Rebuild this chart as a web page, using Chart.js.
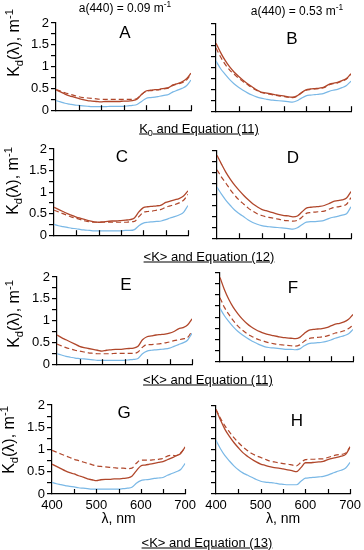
<!DOCTYPE html>
<html>
<head>
<meta charset="utf-8">
<script src="https://cdn.jsdelivr.net/npm/chart.js@4"></script>
<style>
body { margin: 0; background: #fff; }
#wrap { position: relative; width: 364px; height: 550px; overflow: hidden; font-family: "Liberation Sans", Arial, sans-serif; color: #000; }
canvas { position: absolute; }
.t { position: absolute; transform: translate(-50%, -50%); white-space: nowrap; line-height: 1; }
.ylab { position: absolute; transform: translate(-50%, -50%) rotate(-90deg); white-space: nowrap; font-size: 16px; line-height: 1; }
.cap { font-size: 13px; text-decoration: underline; }
.let { font-size: 17px; }
.ttl { font-size: 12px; }
sub, sup { font-size: 70%; line-height: 0; }
</style>
</head>
<body>
<div id="wrap"></div>
<script>
// wavelength, nm
const wl = [400,410,420,430,440,450,460,470,480,490,500,510,520,530,540,550,560,570,580,590,600,610,620,630,640,650,660,670,680,690,700];
const xTicks = [400,450,500,550,600,650,700];

// Kd values, m^-1 (solid, dashed, blue) per panel
const aSolid  = [.47,.42,.37,.33,.30,.27,.24,.22,.21,.20,.19,.20,.20,.20,.20,.21,.21,.22,.25,.36,.44,.46,.47,.48,.50,.52,.58,.61,.65,.72,.85];
const aDashed = [.47,.44,.40,.37,.34,.31,.29,.28,.27,.26,.25,.25,.25,.25,.25,.25,.25,.25,.27,.36,.43,.45,.46,.47,.49,.51,.57,.60,.63,.69,.83];
const aBlue   = [.22,.19,.16,.14,.12,.11,.10,.09,.08,.08,.08,.08,.09,.09,.09,.09,.10,.11,.13,.20,.27,.29,.30,.32,.34,.36,.42,.46,.50,.56,.69];

const bSolid  = [1.56,1.35,1.17,1.02,.90,.80,.71,.63,.56,.49,.44,.42,.40,.38,.36,.35,.33,.32,.35,.43,.49,.51,.52,.53,.55,.61,.64,.66,.70,.75,.86];
const bDashed = [1.45,1.25,1.08,.95,.85,.76,.68,.61,.54,.48,.43,.41,.39,.37,.35,.34,.32,.31,.34,.42,.48,.50,.51,.52,.54,.60,.63,.65,.69,.74,.85];
const bBlue   = [1.15,.98,.85,.73,.63,.55,.48,.42,.37,.33,.30,.28,.26,.25,.24,.23,.22,.21,.24,.30,.35,.37,.38,.39,.41,.45,.48,.50,.54,.59,.69];

const cSolid  = [.65,.60,.55,.50,.46,.42,.39,.36,.33,.31,.30,.31,.32,.33,.33,.34,.35,.36,.40,.54,.64,.66,.67,.68,.70,.76,.79,.82,.85,.91,1.03];
const cDashed = [.58,.54,.50,.46,.42,.39,.36,.33,.31,.30,.30,.30,.30,.30,.30,.30,.30,.31,.32,.43,.53,.55,.56,.58,.60,.65,.68,.71,.75,.81,.95];
const cBlue   = [.25,.22,.20,.18,.16,.15,.13,.12,.11,.10,.10,.10,.10,.10,.10,.10,.11,.11,.13,.22,.28,.30,.31,.32,.33,.36,.40,.43,.47,.53,.69];

const dSolid  = [1.90,1.70,1.51,1.35,1.21,1.09,.98,.88,.79,.72,.66,.63,.60,.57,.54,.52,.51,.49,.51,.60,.69,.71,.72,.73,.75,.79,.84,.86,.88,.92,1.07];
const dDashed = [1.57,1.40,1.26,1.11,.98,.87,.78,.69,.62,.56,.52,.49,.47,.45,.43,.41,.40,.39,.41,.48,.57,.59,.60,.61,.62,.66,.70,.72,.74,.78,.93];
const dBlue   = [1.17,1.01,.87,.75,.64,.56,.49,.42,.36,.32,.29,.27,.26,.25,.24,.23,.22,.21,.24,.31,.37,.38,.38,.39,.41,.45,.48,.50,.53,.56,.72];

const eSolid  = [.67,.61,.56,.51,.46,.41,.38,.36,.34,.32,.30,.32,.33,.34,.34,.35,.36,.37,.41,.56,.63,.65,.67,.68,.69,.71,.75,.81,.84,.90,1.04];
const eDashed = [.46,.42,.38,.35,.32,.30,.28,.26,.25,.24,.24,.24,.24,.25,.25,.25,.25,.25,.28,.39,.45,.45,.46,.47,.49,.51,.54,.56,.58,.61,.76];
const eBlue   = [.24,.21,.18,.16,.14,.13,.12,.11,.10,.09,.09,.09,.09,.09,.09,.09,.10,.11,.13,.24,.30,.32,.33,.34,.35,.37,.41,.45,.49,.55,.71];

const fSolid  = [1.90,1.62,1.40,1.22,1.08,.96,.86,.78,.72,.67,.63,.60,.58,.56,.54,.53,.52,.51,.54,.63,.70,.72,.73,.74,.76,.80,.84,.86,.89,.95,1.06];
const fDashed = [1.44,1.22,1.06,.92,.80,.71,.63,.57,.52,.48,.45,.42,.40,.38,.37,.36,.35,.34,.37,.45,.51,.53,.54,.55,.57,.60,.64,.66,.69,.74,.82];
const fBlue   = [1.20,1.03,.90,.78,.68,.60,.53,.47,.42,.37,.33,.31,.30,.29,.28,.27,.27,.26,.28,.35,.40,.41,.42,.43,.45,.48,.52,.55,.58,.62,.72];

const gSolid  = [.67,.62,.57,.52,.48,.45,.41,.38,.34,.32,.30,.32,.33,.33,.34,.34,.35,.36,.40,.52,.63,.65,.67,.69,.71,.73,.77,.81,.86,.91,1.06];
const gDashed = [.98,.94,.90,.86,.82,.78,.75,.72,.69,.66,.63,.62,.61,.60,.59,.58,.58,.57,.58,.69,.76,.76,.76,.77,.78,.80,.85,.87,.86,.93,1.04];
const gBlue   = [.26,.23,.21,.19,.17,.16,.14,.13,.12,.11,.11,.11,.11,.11,.11,.11,.12,.13,.15,.24,.30,.32,.33,.35,.36,.37,.42,.46,.50,.55,.69];

const hSolid  = [1.92,1.68,1.47,1.31,1.17,1.05,.94,.86,.79,.73,.68,.65,.62,.60,.59,.57,.55,.53,.51,.60,.71,.71,.72,.73,.74,.78,.81,.83,.86,.90,1.07];
const hDashed = [1.92,1.72,1.55,1.41,1.28,1.17,1.07,.99,.92,.87,.83,.79,.75,.73,.71,.69,.68,.66,.64,.72,.78,.79,.79,.80,.80,.83,.86,.89,.90,.93,1.07];
const hBlue   = [1.22,1.03,.87,.75,.64,.55,.48,.43,.38,.33,.29,.27,.26,.25,.23,.22,.21,.21,.21,.29,.36,.37,.38,.39,.40,.43,.47,.51,.54,.59,.72];

const BROWN = "#b0472b";
const BLUE = "#7ab8e6";
const FONT = "'Liberation Sans', Arial, sans-serif";

// plot boxes [left, top, right, bottom] in page pixels
const panels = [
  { box: [56, 23, 191, 112],  s: aSolid, d: aDashed, b: aBlue, left: true,  last: false },
  { box: [216, 24, 351, 113], s: bSolid, d: bDashed, b: bBlue, left: false, last: false },
  { box: [54, 149, 188, 237], s: cSolid, d: cDashed, b: cBlue, left: true,  last: false },
  { box: [217, 151, 351, 240], s: dSolid, d: dDashed, b: dBlue, left: false, last: false },
  { box: [57, 277, 192, 366], s: eSolid, d: eDashed, b: eBlue, left: true,  last: false },
  { box: [220, 273, 353, 363], s: fSolid, d: fDashed, b: fBlue, left: false, last: false },
  { box: [52, 405, 186, 494], s: gSolid, d: gDashed, b: gBlue, left: true,  last: true },
  { box: [216, 406, 351, 494], s: hSolid, d: hDashed, b: hBlue, left: false, last: true }
];

const wrap = document.getElementById("wrap");

// x ticks point up into the plot
const inTicks = {
  id: "inTicks",
  afterDraw(chart) {
    const xs = chart.scales.x, ctx = chart.ctx, bot = chart.chartArea.bottom;
    ctx.save();
    ctx.strokeStyle = "#000";
    ctx.lineWidth = 1.2;
    xTicks.slice(1).forEach(v => {
      const px = Math.round(xs.getPixelForValue(v)) + 0.5;
      ctx.beginPath();
      ctx.moveTo(px, bot);
      ctx.lineTo(px, bot - 5);
      ctx.stroke();
    });
    ctx.restore();
  }
};

const pts = arr => wl.map((x, i) => ({ x: x, y: arr[i] }));

panels.forEach(p => {
  const [l, t, r, b] = p.box;
  const padL = 45, padT = 10, padR = 14, padB = p.last ? 34 : 8;
  const cv = document.createElement("canvas");
  cv.width = (r - l) + padL + padR;
  cv.height = (b - t) + padT + padB;
  cv.style.left = (l - padL) + "px";
  cv.style.top = (t - padT) + "px";
  wrap.appendChild(cv);

  new Chart(cv.getContext("2d"), {
    type: "line",
    data: {
      datasets: [
        { data: pts(p.b), borderColor: BLUE, borderWidth: 1.2 },
        { data: pts(p.d), borderColor: BROWN, borderWidth: 1.2, borderDash: [5, 3] },
        { data: pts(p.s), borderColor: BROWN, borderWidth: 1.3 }
      ]
    },
    options: {
      responsive: false,
      animation: false,
      layout: { padding: { top: padT, right: padR, left: 0, bottom: 0 } },
      elements: { point: { radius: 0 }, line: { cubicInterpolationMode: "monotone", fill: false } },
      plugins: { legend: { display: false }, tooltip: { enabled: false } },
      scales: {
        x: {
          type: "linear", min: 400, max: 700,
          afterFit: s => { s.height = padB; },
          grid: { drawOnChartArea: false, drawTicks: false },
          border: { color: "#000", width: 1.2 },
          ticks: {
            display: p.last, stepSize: 50, autoSkip: false, padding: 4, maxRotation: 0,
            color: "#000", font: { family: FONT, size: 13 },
            callback: v => (v % 100 === 0 ? v : "")
          },
          title: {
            display: p.last, text: "λ, nm", color: "#000",
            font: { family: FONT, size: 14 }, padding: { top: 0, bottom: 0 }
          }
        },
        y: {
          min: 0, max: 2,
          afterFit: s => { s.width = padL; },
          grid: { drawOnChartArea: false, drawTicks: true, tickLength: 5, color: "#000", lineWidth: 1.2 },
          border: { color: "#000", width: 1.2 },
          ticks: {
            stepSize: 0.25, autoSkip: false, padding: 2, color: "#000",
            font: { family: FONT, size: 13 },
            callback: v => (p.left && Number.isInteger(v * 2) ? v : "")
          }
        }
      }
    },
    plugins: [inTicks]
  });
});

// text pieces
const texts = [
  { cls: "t ttl", x: 125, y: 8,  html: "a(440) = 0.09 m<sup>-1</sup>" },
  { cls: "t ttl", x: 297, y: 11, html: "a(440) = 0.53 m<sup>-1</sup>" },
  { cls: "t let", x: 125, y: 32, html: "A" },
  { cls: "t let", x: 292, y: 38, html: "B" },
  { cls: "t let", x: 122, y: 156, html: "C" },
  { cls: "t let", x: 293, y: 157, html: "D" },
  { cls: "t let", x: 126, y: 284, html: "E" },
  { cls: "t let", x: 293, y: 287, html: "F" },
  { cls: "t let", x: 124, y: 412, html: "G" },
  { cls: "t let", x: 297, y: 420, html: "H" },
  { cls: "t cap", x: 199, y: 128, html: "K<sub>0</sub> and Equation (11)" },
  { cls: "t cap", x: 209, y: 256, html: "&lt;K&gt; and Equation (12)" },
  { cls: "t cap", x: 208, y: 379, html: "&lt;K&gt; and Equation (11)" },
  { cls: "t cap", x: 207, y: 542, html: "&lt;K&gt; and Equation (13)" },
  { cls: "ylab", x: 14, y: 43,  html: "K<sub>d</sub>(λ), m<sup>-1</sup>" },
  { cls: "ylab", x: 13, y: 181, html: "K<sub>d</sub>(λ), m<sup>-1</sup>" },
  { cls: "ylab", x: 14, y: 314, html: "K<sub>d</sub>(λ), m<sup>-1</sup>" },
  { cls: "ylab", x: 9,  y: 440, html: "K<sub>d</sub>(λ), m<sup>-1</sup>" }
];
texts.forEach(o => {
  const el = document.createElement("div");
  el.className = o.cls;
  el.style.left = o.x + "px";
  el.style.top = o.y + "px";
  el.innerHTML = o.html;
  wrap.appendChild(el);
});
</script>
</body>
</html>
